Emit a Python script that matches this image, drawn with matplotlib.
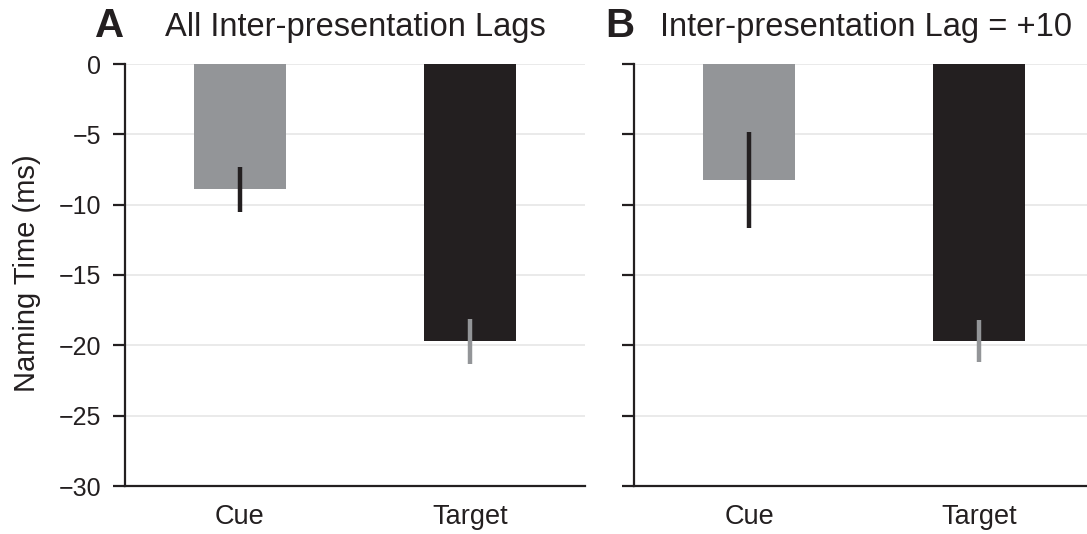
import numpy as np
import matplotlib.pyplot as plt

plt.rcParams['font.family'] = ['Liberation Sans', 'DejaVu Sans']

conditions = ["Cue", "Target"]
panel_letters = ["A", "B"]
panel_titles = ["All Inter-presentation Lags", "Inter-presentation Lag = +10"]

# mean naming-time difference (ms) and half-width of the error bars
means_all = [-8.9, -19.7]
errs_all = [1.6, 1.6]
means_lag10 = [-8.25, -19.7]
errs_lag10 = [3.4, 1.5]

yticks = [0, -5, -10, -15, -20, -25, -30]

GRAY = "#939598"
DARK = "#231f20"
bar_colors = [GRAY, DARK]
err_colors = [DARK, GRAY]

W, H = 1087, 534
fig = plt.figure(figsize=(W / 100, H / 100), dpi=100)


def px_axes(left, top, width, height):
    return fig.add_axes([left / W, (H - top - height) / H, width / W, height / H])


def draw_panel(ax, means, errs, show_labels):
    x = np.arange(len(conditions))
    ax.bar(x, means, width=0.4, color=bar_colors, zorder=2)
    for xi, m, e, c in zip(x, means, errs, err_colors):
        ax.errorbar(xi, m, yerr=e, fmt='none', ecolor=c, elinewidth=3.2,
                    capsize=0, zorder=3)
    ax.set_xlim(-0.5, 1.5)
    ax.set_ylim(-30, 0)
    ax.set_yticks(yticks)
    ax.set_yticklabels([f"{t}".replace("-", "\u2212") for t in yticks])
    ax.set_xticks(x)
    ax.set_xticklabels(conditions)
    ax.yaxis.grid(True, color="#e8e8e8", linewidth=1.3, zorder=0)
    ax.set_axisbelow(True)
    for s in ["top", "right"]:
        ax.spines[s].set_visible(False)
    for s in ["left", "bottom"]:
        ax.spines[s].set_linewidth(1.6)
        ax.spines[s].set_color(DARK)
    ax.tick_params(axis='y', direction='out', length=9, width=1.6,
                   color=DARK, labelsize=18, pad=8, labelcolor=DARK)
    ax.tick_params(axis='x', length=0, labelsize=19.5, pad=13, labelcolor=DARK)
    if not show_labels:
        ax.tick_params(axis='y', labelleft=False)


ax_a = px_axes(125, 64, 460, 422)
ax_b = px_axes(634, 64, 460, 422)
draw_panel(ax_a, means_all, errs_all, True)
draw_panel(ax_b, means_lag10, errs_lag10, False)

fig.text(27 / W, 1 - 273 / H, "Naming Time (ms)", fontsize=21, color=DARK,
         rotation=90, ha='center', va='center')

# panel letters and titles
for lx, tx, letter, title in [(95, 165, panel_letters[0], panel_titles[0]),
                              (605, 660, panel_letters[1], panel_titles[1])]:
    fig.text(lx / W, 1 - 37 / H, letter, fontsize=29, fontweight='bold',
             color=DARK, ha='left', va='baseline')
    fig.text(tx / W, 1 - 36 / H, title, fontsize=23.5, color=DARK,
             ha='left', va='baseline')

fig.savefig("out.png", dpi=100)
